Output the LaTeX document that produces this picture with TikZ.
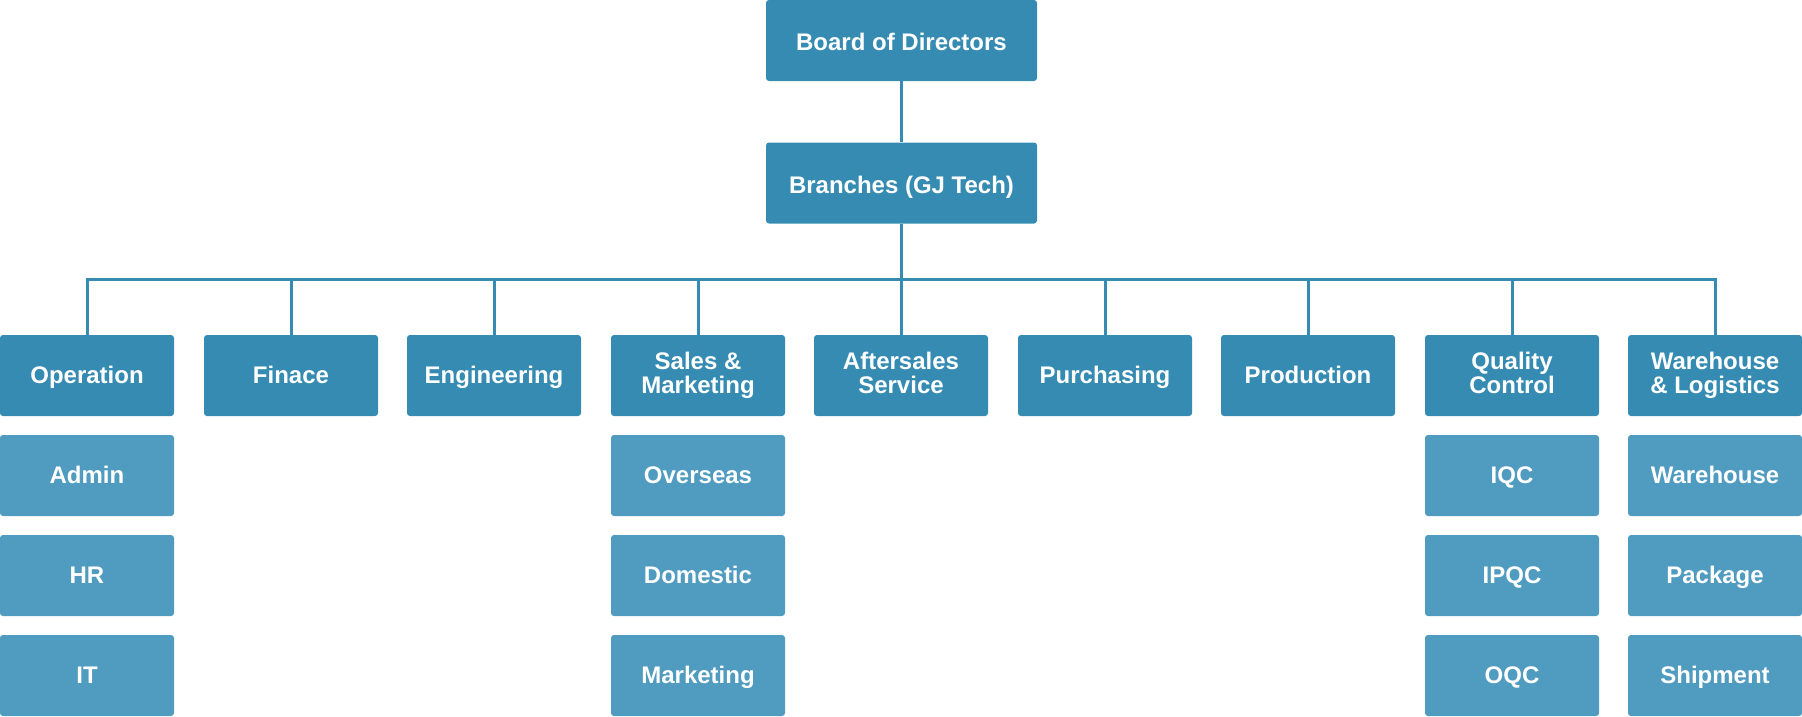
\documentclass[tikz,border=0pt]{standalone}
\usepackage{fontspec}
\setmainfont{Liberation Sans}
\definecolor{darkbox}{RGB}{53,139,178}
\definecolor{lightbox}{RGB}{80,155,192}
\begin{document}
\begin{tikzpicture}[x=1pt,y=-1pt,
  box/.style={fill=darkbox, text=white, rounded corners=3pt, minimum width=174pt, minimum height=81pt, inner sep=0pt, align=center, font=\bfseries\fontsize{24}{24}\selectfont, text height=17.2pt, text depth=2pt},
  twobox/.style={box, text height=41.2pt, text depth=4.5pt},
  subbox/.style={box, fill=lightbox},
  widebox/.style={box, minimum width=271pt, text height=20.5pt, text depth=0pt},
  conn/.style={draw=darkbox, line width=3pt}]
\useasboundingbox (0,0) rectangle (1802,716);
\node[widebox] (bod) at (901.5,40.5) {Board of Directors};
\node[widebox] (br) at (901.5,183) {Branches (GJ Tech)};
\node[box] (d1) at (87,375.5) {Operation};
\node[box] (d2) at (291,375.5) {Finace};
\node[box] (d3) at (494,375.5) {Engineering};
\node[twobox] (d4) at (698,375.5) {Sales \&\\Marketing};
\node[twobox] (d5) at (901,375.5) {Aftersales\\Service};
\node[box] (d6) at (1105,375.5) {Purchasing};
\node[box] (d7) at (1308,375.5) {Production};
\node[twobox] (d8) at (1512,375.5) {Quality\\Control};
\node[twobox] (d9) at (1715,375.5) {Warehouse\\\& Logistics};
\node[subbox] (s11) at (87,475.5) {Admin};
\node[subbox] (s12) at (87,575.5) {HR};
\node[subbox] (s13) at (87,675.5) {IT};
\node[subbox] (s41) at (698,475.5) {Overseas};
\node[subbox] (s42) at (698,575.5) {Domestic};
\node[subbox] (s43) at (698,675.5) {Marketing};
\node[subbox] (s81) at (1512,475.5) {IQC};
\node[subbox] (s82) at (1512,575.5) {IPQC};
\node[subbox] (s83) at (1512,675.5) {OQC};
\node[subbox] (s91) at (1715,475.5) {Warehouse};
\node[subbox] (s92) at (1715,575.5) {Package};
\node[subbox] (s93) at (1715,675.5) {Shipment};
\coordinate (bus) at (901.5,279);
\draw[conn] (bod.south) -- (br.north);
\draw[conn] (br.south) -- (bus);
\draw[conn] (d1.north) |- (d9.north |- bus) -- (d9.north);
\foreach \d in {d2,d3,d4,d5,d6,d7,d8}
  \draw[conn] (\d.north) -- (\d.north |- bus);
\end{tikzpicture}
\end{document}
